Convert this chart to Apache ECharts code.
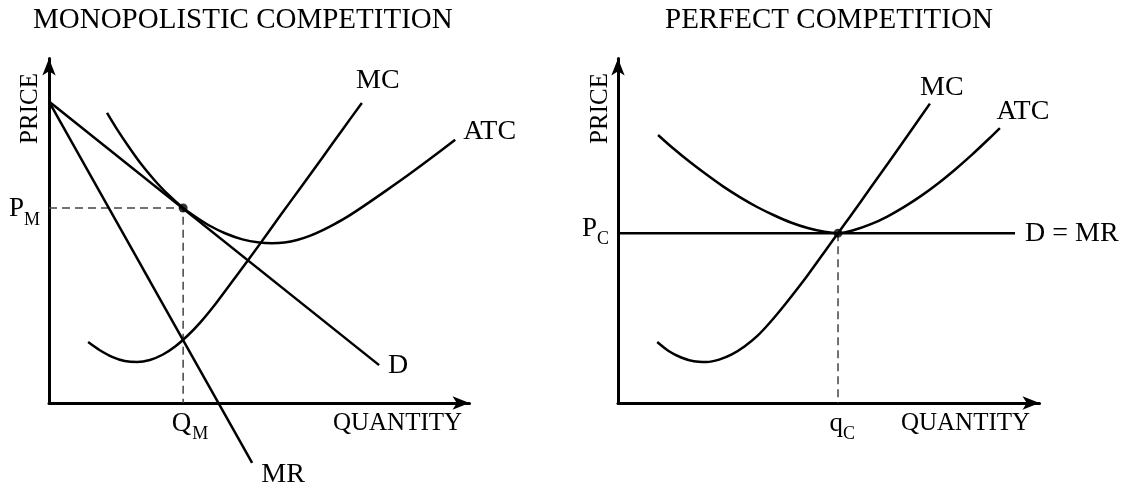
<!DOCTYPE html>
<html>
<head>
<meta charset="utf-8">
<title>Monopolistic vs Perfect Competition</title>
<script src="https://cdn.jsdelivr.net/npm/echarts@6/dist/echarts.min.js"></script>
<style>
  html, body { margin: 0; padding: 0; background: #fff; }
  #main { width: 1125px; height: 489px; }
</style>
</head>
<body>
<div id="main"></div>
<script>
/* monopolistic competition (left panel), quantity 0-100, price 0-100 */
var monoDemand = [[0, 87.5], [78.5, 11]];
var monoMR = [[0, 87.5], [48.3, -17.4]];
var monoMC = [[9.3, 17.7], [12, 15.4], [15, 13.4], [18, 12.2], [21, 11.9], [24, 12.5],
    [27, 14.0], [30, 16.4], [33, 19.6], [36, 23.4], [40, 29.4], [45, 37.6], [50, 45.9],
    [55, 54.4], [60, 62.8], [65, 71.2], [70, 79.7], [74.4, 87.1]];
var monoATC = [[13.8, 84.2], [16, 79.8], [19, 74.3], [22, 69.2], [25, 64.8], [28, 60.9],
    [31.9, 56.6], [35, 53.9], [38, 51.6], [42, 49.2], [46, 47.5], [50, 46.6], [53, 46.4],
    [56, 46.6], [59, 47.3], [62, 48.5], [65, 50.1], [68, 52.0], [71, 54.1], [75, 57.3],
    [80, 61.5], [85, 65.8], [90, 70.3], [96.6, 76.4]];
var monoPM = 56.6;
var monoQM = 31.9;

/* perfect competition (right panel) */
var compDMR = [[0, 49.3], [94.2, 49.3]];
var compMC = [[9.3, 17.7], [12, 15.1], [15, 13.2], [18, 12.1], [21, 11.9], [24, 12.6],
    [27, 14.1], [30, 16.4], [33, 19.4], [36, 23.3], [40, 29.2], [45, 37.1], [50, 45.6],
    [52.2, 49.3], [55, 54.0], [60, 62.6], [65, 71.2], [70, 79.9], [74, 86.9]];
var compATC = [[9.5, 77.8], [13, 74.0], [17, 70.0], [21, 66.3], [25, 62.8], [29, 59.7],
    [33, 56.9], [37, 54.5], [41, 52.4], [45, 50.8], [49, 49.7], [52.2, 49.3], [56, 50.2],
    [60, 51.9], [64, 54.2], [68, 57.0], [72, 60.2], [76, 63.8], [80, 67.8], [84, 72.1],
    [88, 76.7], [90.6, 79.8]];
var compPC = 49.3;
var compQC = 52.2;

var FONT = 'Liberation Serif';

var chart = echarts.init(document.getElementById('main'));

var axisLine = {
    show: true,
    onZero: true,
    symbol: ['none', 'arrow'],
    symbolSize: [10, 17],
    lineStyle: { color: '#000', width: 3 }
};
var makeAxis = function (grid) {
    return {
        type: 'value', gridIndex: grid, min: 0, max: 100,
        axisLine: axisLine, axisTick: { show: false },
        axisLabel: { show: false }, splitLine: { show: false }
    };
};
var curve = function (grid, data, smooth) {
    return {
        type: 'line', xAxisIndex: grid, yAxisIndex: grid, data: data,
        smooth: smooth ? 0.3 : false, showSymbol: false, clip: false,
        lineStyle: { color: '#000', width: 2.5 }, silent: true
    };
};
var guide = function (grid, data) {
    return {
        type: 'line', xAxisIndex: grid, yAxisIndex: grid, data: data,
        showSymbol: false, clip: false, z: 1,
        lineStyle: { color: '#444', width: 1.5, type: [8, 5] }
    };
};
var dot = function (grid, pt) {
    return {
        type: 'scatter', xAxisIndex: grid, yAxisIndex: grid, data: [pt],
        symbolSize: 9, itemStyle: { color: '#000' }, z: 5
    };
};

var option = {
    animation: false,
    title: [
        { text: 'MONOPOLISTIC COMPETITION', left: 33, top: 6, padding: 0,
          textStyle: { fontFamily: FONT, fontSize: 29, fontWeight: 'normal', color: '#000' } },
        { text: 'PERFECT COMPETITION', left: 665, top: 6, padding: 0,
          textStyle: { fontFamily: FONT, fontSize: 29, fontWeight: 'normal', color: '#000' } }
    ],
    grid: [
        { left: 49, right: 655.5, top: 58.5, bottom: 86 },
        { left: 618, right: 85.5, top: 58.5, bottom: 86 }
    ],
    xAxis: [makeAxis(0), makeAxis(1)],
    yAxis: [makeAxis(0), makeAxis(1)],
    series: [
        guide(0, [[0, monoPM], [monoQM, monoPM], [monoQM, 0]]),
        curve(0, monoDemand, false),
        curve(0, monoMR, false),
        curve(0, monoMC, true),
        curve(0, monoATC, true),
        dot(0, [monoQM, monoPM]),
        guide(1, [[compQC, compPC], [compQC, 0]]),
        curve(1, compDMR, false),
        curve(1, compMC, true),
        curve(1, compATC, true),
        dot(1, [compQC, compPC])
    ]
};
chart.setOption(option);

/* text labels, anchored to the data through the grids */
var toPx = function (grid, pt) {
    return chart.convertToPixel({ gridIndex: grid }, pt);
};
var last = function (arr) { return arr[arr.length - 1]; };
var label = function (p, dx, dy, text, size, align, rot) {
    return {
        type: 'text', x: p[0] + dx, y: p[1] + dy, rotation: rot || 0, silent: true,
        style: {
            text: text, fontFamily: FONT, fontSize: size, fill: '#000',
            align: align || 'center', textAlign: align || 'center',
            verticalAlign: 'middle', textVerticalAlign: 'middle'
        }
    };
};

var g = [];
// left panel
g.push(label(toPx(0, [0, 100]), -18.5, 50, 'PRICE', 25, 'center', Math.PI / 2));
g.push(label(toPx(0, [100, 0]), -72, 20, 'QUANTITY', 25));
g.push(label(toPx(0, last(monoMC)), 16, -22, 'MC', 28));
g.push(label(toPx(0, last(monoATC)), 8, -8, 'ATC', 28, 'left'));
g.push(label(toPx(0, last(monoDemand)), 19, 1, 'D', 28));
g.push(label(toPx(0, last(monoMR)), 31, 12, 'MR', 28));
var pm = toPx(0, [0, monoPM]);
g.push(label(pm, -25, 1, 'P', 27, 'right'));
g.push(label(pm, -25, 12, 'M', 18, 'left'));
var qm = toPx(0, [monoQM, 0]);
g.push(label(qm, 8, 21, 'Q', 27, 'right'));
g.push(label(qm, 9, 31, 'M', 18, 'left'));
// right panel
g.push(label(toPx(1, [0, 100]), -18, 50, 'PRICE', 25, 'center', Math.PI / 2));
g.push(label(toPx(1, [100, 0]), -74, 20, 'QUANTITY', 25));
g.push(label(toPx(1, last(compMC)), 12, -16, 'MC', 28));
g.push(label(toPx(1, last(compATC)), 23, -16, 'ATC', 28));
g.push(label(toPx(1, last(compDMR)), 10, 0, 'D = MR', 28, 'left'));
var pc = toPx(1, [0, compPC]);
g.push(label(pc, -21, -4, 'P', 27, 'right'));
g.push(label(pc, -21, 6, 'C', 18, 'left'));
var qc = toPx(1, [compQC, 0]);
g.push(label(qc, 5, 21, 'q', 27, 'right'));
g.push(label(qc, 5, 31, 'C', 18, 'left'));

chart.setOption({ graphic: g });
</script>
</body>
</html>
